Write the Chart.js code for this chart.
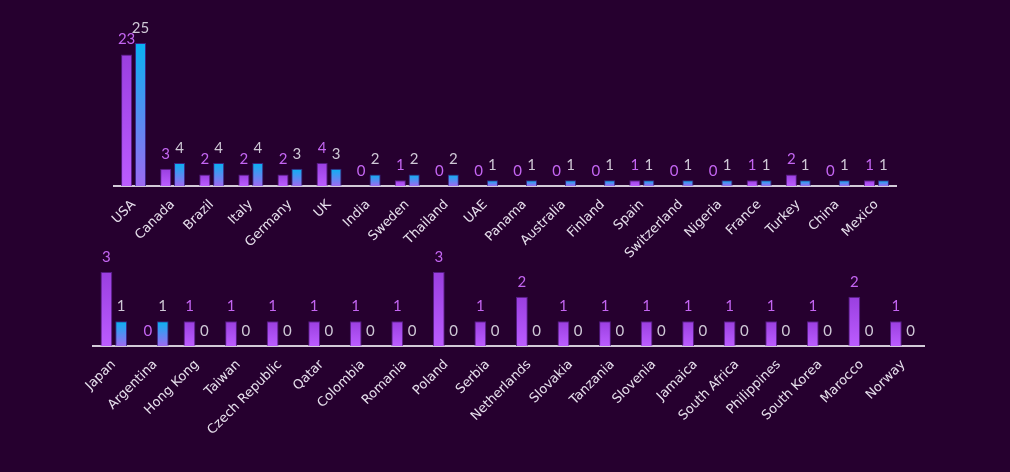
<!DOCTYPE html>
<html>
<head>
<meta charset="utf-8">
<script src="https://cdn.jsdelivr.net/npm/chart.js@4.4.0/dist/chart.umd.min.js"></script>
<style>
    html, body { margin: 0; padding: 0; background: #26002f; width: 1010px; height: 472px; overflow: hidden; }
    .box { position: absolute; left: 0; width: 1010px; }
    #box-1 { top: 0; height: 290px; }
    #box-2 { top: 240px; height: 232px; }
</style>
</head>
<body>
<div class="box" id="box-1"><canvas id="myChart1"></canvas></div>
<div class="box" id="box-2"><canvas id="myChart2"></canvas></div>
<script>
// Data - top row of countries
const countries1 = ['USA', 'Canada', 'Brazil', 'Italy', 'Germany', 'UK', 'India', 'Sweden', 'Thailand', 'UAE',
    'Panama', 'Australia', 'Finland', 'Spain', 'Switzerland', 'Nigeria', 'France', 'Turkey', 'China', 'Mexico'];
const purple1 = [23, 3, 2, 2, 2, 4, 0, 1, 0, 0, 0, 0, 0, 1, 0, 0, 1, 2, 0, 1];
const blue1 = [25, 4, 4, 4, 3, 3, 2, 2, 2, 1, 1, 1, 1, 1, 1, 1, 1, 1, 1, 1];

// Data - bottom row of countries
const countries2 = ['Japan', 'Argentina', 'Hong Kong', 'Taiwan', 'Czech Republic', 'Qatar', 'Colombia', 'Romania', 'Poland', 'Serbia',
    'Netherlands', 'Slovakia', 'Tanzania', 'Slovenia', 'Jamaica', 'South Africa', 'Philippines', 'South Korea', 'Marocco', 'Norway'];
const purple2 = [3, 0, 1, 1, 1, 1, 1, 1, 3, 1, 2, 1, 1, 1, 1, 1, 1, 1, 2, 1];
const blue2 = [1, 1, 0, 0, 0, 0, 0, 0, 0, 0, 0, 0, 0, 0, 0, 0, 0, 0, 0, 0];

const VALUE_FONT = 'Lato, "Open Sans", sans-serif';
const TICK_FONT = '"DejaVu Sans", Lato, sans-serif';
const PURPLE_TOP = '#9a3fe0', PURPLE_BOTTOM = '#bb5cff';
const BLUE_TOP = '#08b2f2', BLUE_BOTTOM = '#9d6af2';

// Gradient from the top of each bar to the axis
function barGradient(top, bottom) {
    return (ctx) => {
        const chart = ctx.chart;
        const yScale = chart.scales.y;
        if (!yScale || ctx.raw === undefined) return top;
        const y0 = yScale.getPixelForValue(ctx.raw);
        const y1 = yScale.getPixelForValue(0);
        if (!isFinite(y0) || !isFinite(y1)) return top;
        if (y1 - y0 < 1) return bottom;
        const g = chart.ctx.createLinearGradient(0, y0, 0, y1);
        g.addColorStop(0, top);
        g.addColorStop(1, bottom);
        return g;
    };
}

// Value labels above bars
const valueLabels = {
    id: 'valueLabels',
    afterDatasetsDraw(chart) {
        const ctx = chart.ctx;
        ctx.save();
        ctx.font = '15px ' + VALUE_FONT;
        ctx.textAlign = 'center';
        ctx.textBaseline = 'middle';
        chart.data.datasets.forEach((ds, i) => {
            ctx.fillStyle = ds.labelColor;
            chart.getDatasetMeta(i).data.forEach((bar, j) => {
                ctx.fillText(String(ds.data[j]), bar.x, bar.y - 15);
            });
        });
        ctx.restore();
    }
};

function makeChart(id, labels, purple, blue, area) {
    return new Chart(document.getElementById(id), {
        type: 'bar',
        data: {
            labels: labels,
            datasets: [{
                data: purple,
                backgroundColor: barGradient(PURPLE_TOP, PURPLE_BOTTOM),
                borderColor: 'rgba(90, 30, 140, 0.9)',
                borderWidth: 1,
                labelColor: '#c465f2'
            }, {
                data: blue,
                backgroundColor: barGradient(BLUE_TOP, BLUE_BOTTOM),
                borderColor: 'rgba(60, 40, 140, 0.9)',
                borderWidth: 1,
                labelColor: '#cfc8d6'
            }]
        },
        options: {
            responsive: true,
            maintainAspectRatio: false,
            animation: false,
            layout: { padding: { left: area.left, right: area.right, top: area.top, bottom: 0 } },
            datasets: { bar: { barPercentage: 0.8, categoryPercentage: 0.71 } },
            plugins: { legend: { display: false }, tooltip: { enabled: false } },
            scales: {
                x: {
                    grid: { display: false },
                    border: { display: true, color: '#d2cad8', width: 2 },
                    ticks: {
                        color: '#e6dfec',
                        font: { family: TICK_FONT, size: 13 },
                        minRotation: 45,
                        maxRotation: 45,
                        autoSkip: false,
                        padding: 3
                    },
                    afterFit(scale) {
                        scale.height = area.axis;
                        scale.paddingLeft = 0;
                        scale.paddingRight = 0;
                    }
                },
                y: {
                    display: false,
                    min: 0,
                    max: Math.max(...purple, ...blue)
                }
            }
        },
        plugins: [valueLabels]
    });
}

makeChart('myChart1', countries1, purple1, blue1, { left: 114, right: 114, top: 43, axis: 104 });
makeChart('myChart2', countries2, purple2, blue2, { left: 93, right: 86, top: 32, axis: 126 });
</script>
</body>
</html>
